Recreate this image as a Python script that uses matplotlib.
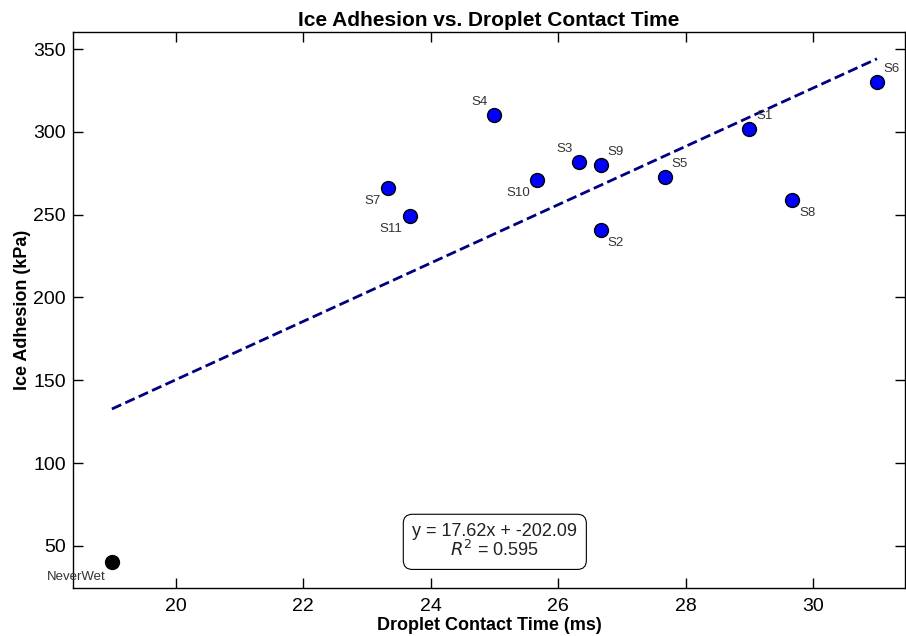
import matplotlib
matplotlib.use("Agg")
import matplotlib.pyplot as plt
import numpy as np

plt.rcParams['font.family'] = ['Liberation Sans', 'DejaVu Sans']

samples = ['S1', 'S2', 'S3', 'S4', 'S5', 'S6', 'S7', 'S8', 'S9', 'S10', 'S11']
contact_time = [29.0, 26.67, 26.33, 25.0, 27.67, 31.0, 23.33, 29.67, 26.67, 25.67, 23.67]
ice_adhesion = [302, 241, 282, 310, 273, 330, 266, 259, 280, 271, 249]
ref_name = 'NeverWet'
ref_time = 19.0
ref_adhesion = 40

slope = 17.62
intercept = -202.09
r2 = 0.595

# label offset directions (dx sign, dy sign)
label_dirs = {
    'S1': (1, 1), 'S2': (1, -1), 'S3': (-1, 1), 'S4': (-1, 1), 'S5': (1, 1),
    'S6': (1, 1), 'S7': (-1, -1), 'S8': (1, -1), 'S9': (1, 1), 'S10': (-1, -1),
    'S11': (-1, -1),
}

fig = plt.figure(figsize=(9.06, 6.36), dpi=100)
ax = fig.add_axes([73/906, 1-588/636, (905-73)/906, (588-32)/636])

all_x = np.array(contact_time + [ref_time])
xs = np.linspace(all_x.min(), all_x.max(), 100)
ax.plot(xs, slope * xs + intercept, linestyle='--', color='navy', linewidth=2, zorder=1)

ax.scatter(contact_time, ice_adhesion, s=100, color='blue', edgecolor='black', linewidth=1, zorder=3)
ax.scatter([ref_time], [ref_adhesion], s=100, color='black', edgecolor='black', linewidth=1, zorder=3)

for name, x, y in zip(samples, contact_time, ice_adhesion):
    dx, dy = label_dirs[name]
    ax.annotate(name, (x, y), xytext=(dx * 5, dy * 5), textcoords='offset points',
                ha='left' if dx > 0 else 'right', va='bottom' if dy > 0 else 'top',
                fontsize=9.5, color='#333333')
ax.annotate(ref_name, (ref_time, ref_adhesion), xytext=(-26, -6), textcoords='offset points',
            ha='center', va='top', fontsize=9.5, color='#333333')

ax.text(0.507, 0.083, f'y = {slope:.2f}x + {intercept:.2f}\n$R^2$ = {r2:.3f}',
        transform=ax.transAxes, ha='center', va='center', fontsize=13, color='#222222',
        linespacing=1.0,
        bbox=dict(boxstyle='round,pad=0.5', facecolor='white', edgecolor='black', linewidth=0.8))

ax.set_xlim(18.39, 31.44)
ax.set_ylim(24.6, 360.3)
ax.set_xticks([20, 22, 24, 26, 28, 30])
ax.set_yticks([50, 100, 150, 200, 250, 300, 350])
ax.tick_params(direction='in', length=7, width=1, labelsize=14, top=True, right=True, pad=5)
ax.tick_params(axis='x', pad=7)
for sp in ax.spines.values():
    sp.set_linewidth(1)

ax.set_xlabel('Droplet Contact Time (ms)', fontsize=13, fontweight='bold', labelpad=2)
ax.set_ylabel('Ice Adhesion (kPa)', fontsize=13, fontweight='bold', labelpad=2)
ax.set_title('Ice Adhesion vs. Droplet Contact Time', fontsize=15, fontweight='bold', pad=4)

fig.savefig('out.png', dpi=100)
